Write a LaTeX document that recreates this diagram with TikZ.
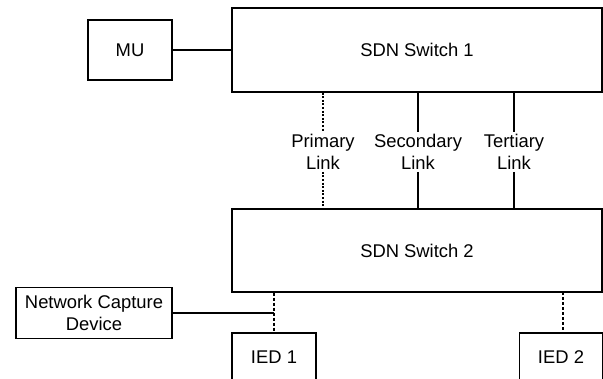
\documentclass[tikz,border=0pt]{standalone}
\usepackage{fontspec}
\setmainfont{Liberation Sans}
\begin{document}
\begin{tikzpicture}[x=1pt,y=-1pt,
    box/.style={draw,line width=1.1pt,minimum width=84pt,minimum height=60pt,inner sep=0pt},
    link/.style={line width=1.1pt},
    linklabel/.style={align=center,inner sep=2pt},
    every node/.style={font=\fontsize{18.4}{22}\selectfont}]
      \useasboundingbox (0,0) rectangle (603,378);
      \clip (0,0) rectangle (603,378);
      \draw
        (130,50) node[box] (mu){MU}
        (417,50) node[box,minimum width=370pt,minimum height=84pt] (sw1){SDN Switch 1}
        (417,250.5) node[box,minimum width=370pt,minimum height=83pt] (sw2){SDN Switch 2}
        (94,313) node[box,minimum width=156pt,minimum height=51pt,align=center] (ncd){Network Capture\\Device}
        (274,357) node[box,minimum height=48pt] (ied1){IED 1}
        (561,357) node[box,minimum width=83pt,minimum height=48pt] (ied2){IED 2};
      \draw
        (323,152) node[linklabel] (prim){Primary\\Link}
        (418,152) node[linklabel] (sec){Secondary\\Link}
        (514,152) node[linklabel] (ter){Tertiary\\Link};
      \begin{scope}[link]
        \draw (mu) to (sw1);
        \draw[dash pattern=on 2pt off 1.6pt] (prim.north |- sw1.south) to (prim.north);
        \draw[dash pattern=on 2pt off 1.6pt] (prim.south) to (prim.south |- sw2.north);
        \draw (sec.north |- sw1.south) to (sec.north);
        \draw (sec.south) to (sec.south |- sw2.north);
        \draw (ter.north |- sw1.south) to (ter.north);
        \draw (ter.south) to (ter.south |- sw2.north);
        \draw[dash pattern=on 3pt off 2pt] (ied1.north |- sw2.south) to (ied1.north);
        \draw[dash pattern=on 3pt off 2pt] (563,292) to (ied2.north -| 563,0);
        \draw (ncd.east) to (ncd.east -| ied1.north);
      \end{scope}
    \end{tikzpicture}
\end{document}
